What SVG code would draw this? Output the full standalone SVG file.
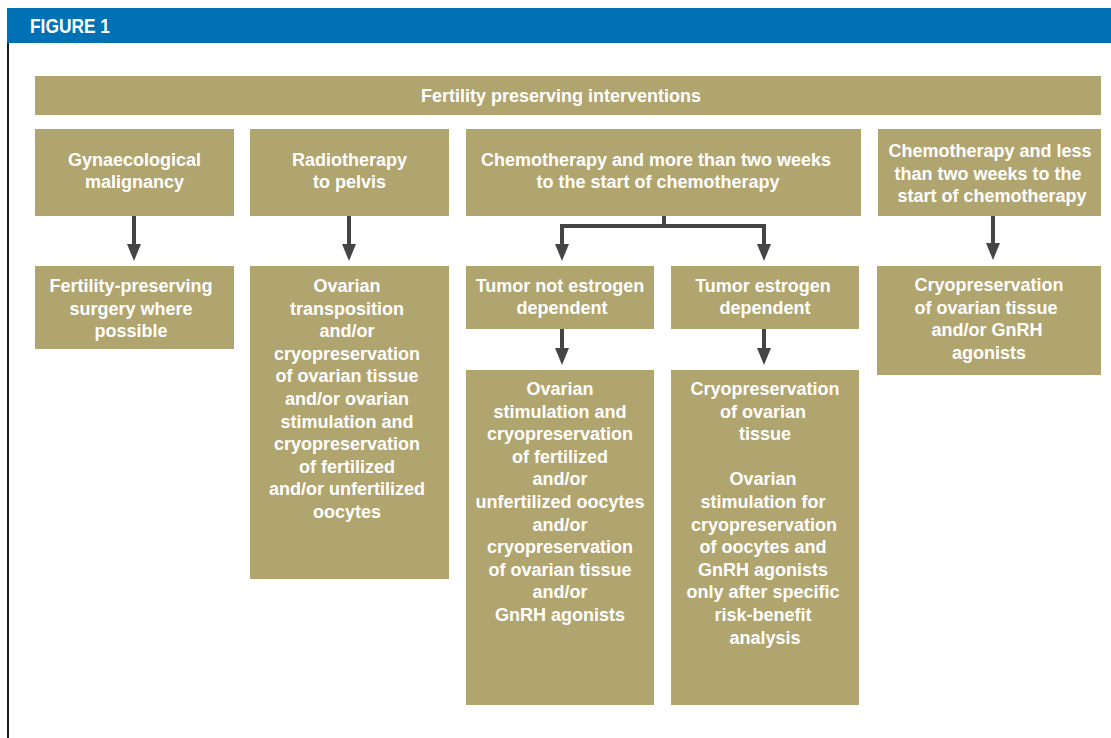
<svg xmlns="http://www.w3.org/2000/svg" width="1111" height="738" viewBox="0 0 1111 738">
<defs>
<style>
.box{fill:#b1a56f;}
.t{font-family:"Liberation Sans",Arial,sans-serif;font-weight:bold;font-size:18px;fill:#ffffff;text-anchor:middle;}
.c{fill:none;stroke:#454545;stroke-width:4;}
</style>
<marker id="ah" markerUnits="userSpaceOnUse" markerWidth="18" markerHeight="14" viewBox="0 0 18 14" refX="2" refY="7" orient="auto">
<path d="M0,0 L17,7 L0,14 z" fill="#454545"/>
</marker>
</defs>
<rect x="0" y="0" width="1111" height="738" fill="#ffffff"/>
<g id="header">
<rect x="7" y="8" width="1104" height="35" fill="#0071b4"/>
<text x="30" y="33" font-family="'Liberation Sans',Arial,sans-serif" font-weight="bold" font-size="21" fill="#ffffff" textLength="80" lengthAdjust="spacingAndGlyphs">FIGURE 1</text>
<rect x="7" y="43" width="2" height="695" fill="#1a1a1a"/>
</g>
<g id="connectors">
<path class="c" d="M134,215 V246" marker-end="url(#ah)"/>
<path class="c" d="M349,215 V246" marker-end="url(#ah)"/>
<path class="c" d="M664,215 V226 H562 V246" marker-end="url(#ah)"/>
<path class="c" d="M664,226 H764 V246" marker-end="url(#ah)"/>
<path class="c" d="M562,328 V350" marker-end="url(#ah)"/>
<path class="c" d="M764,328 V350" marker-end="url(#ah)"/>
<path class="c" d="M993,215 V245" marker-end="url(#ah)"/>
</g>
<g id="title">
<rect class="box" x="35" y="76" width="1066" height="39"/>
<text class="t" x="561" y="102">Fertility preserving interventions</text>
</g>
<g id="gyn">
<rect class="box" x="35" y="129" width="199" height="87"/>
<text class="t" x="134.5" y="165.5">Gynaecological</text>
<text class="t" x="134.5" y="188">malignancy</text>
</g>
<g id="radio">
<rect class="box" x="250" y="129" width="199" height="87"/>
<text class="t" x="349.5" y="165.5">Radiotherapy</text>
<text class="t" x="349.5" y="188">to pelvis</text>
</g>
<g id="chemoMore">
<rect class="box" x="466" y="129" width="395" height="87"/>
<text class="t" x="656" y="165.5">Chemotherapy and more than two weeks</text>
<text class="t" x="658" y="188">to the start of chemotherapy</text>
</g>
<g id="chemoLess">
<rect class="box" x="878" y="129" width="223" height="87"/>
<text class="t" x="990" y="157">Chemotherapy and less</text>
<text class="t" x="988" y="179.5">than two weeks to the</text>
<text class="t" x="992" y="202">start of chemotherapy</text>
</g>
<g id="surgery">
<rect class="box" x="35" y="266" width="199" height="83"/>
<text class="t" x="131" y="292">Fertility-preserving</text>
<text class="t" x="131" y="314.5">surgery where</text>
<text class="t" x="131" y="337">possible</text>
</g>
<g id="ovarianTransposition">
<rect class="box" x="250" y="266" width="199" height="313"/>
<text class="t" x="347" y="292">Ovarian</text>
<text class="t" x="347" y="314.6">transposition</text>
<text class="t" x="347" y="337.2">and/or</text>
<text class="t" x="347" y="359.8">cryopreservation</text>
<text class="t" x="347" y="382.4">of ovarian tissue</text>
<text class="t" x="347" y="405">and/or ovarian</text>
<text class="t" x="347" y="427.6">stimulation and</text>
<text class="t" x="347" y="450.2">cryopreservation</text>
<text class="t" x="347" y="472.8">of fertilized</text>
<text class="t" x="347" y="495.4">and/or unfertilized</text>
<text class="t" x="347" y="518">oocytes</text>
</g>
<g id="notEstrogen">
<rect class="box" x="466" y="266" width="188" height="63"/>
<text class="t" x="560" y="292">Tumor not estrogen</text>
<text class="t" x="562" y="314">dependent</text>
</g>
<g id="estrogen">
<rect class="box" x="671" y="266" width="188" height="63"/>
<text class="t" x="763" y="292">Tumor estrogen</text>
<text class="t" x="765" y="314">dependent</text>
</g>
<g id="cryoGnrh">
<rect class="box" x="877" y="266" width="224" height="109"/>
<text class="t" x="989" y="291">Cryopreservation</text>
<text class="t" x="986" y="313.5">of ovarian tissue</text>
<text class="t" x="987" y="336">and/or GnRH</text>
<text class="t" x="989" y="358.5">agonists</text>
</g>
<g id="stimulation">
<rect class="box" x="466" y="370" width="188" height="335"/>
<text class="t" x="560" y="395">Ovarian</text>
<text class="t" x="560" y="417.6">stimulation and</text>
<text class="t" x="560" y="440.2">cryopreservation</text>
<text class="t" x="560" y="462.8">of fertilized</text>
<text class="t" x="560" y="485.4">and/or</text>
<text class="t" x="560" y="508">unfertilized oocytes</text>
<text class="t" x="560" y="530.6">and/or</text>
<text class="t" x="560" y="553.2">cryopreservation</text>
<text class="t" x="560" y="575.8">of ovarian tissue</text>
<text class="t" x="560" y="598.4">and/or</text>
<text class="t" x="560" y="621">GnRH agonists</text>
</g>
<g id="cryoOvarian">
<rect class="box" x="671" y="370" width="188" height="335"/>
<text class="t" x="765" y="395">Cryopreservation</text>
<text class="t" x="763" y="417.6">of ovarian</text>
<text class="t" x="765" y="440.2">tissue</text>
<text class="t" x="763" y="485.4">Ovarian</text>
<text class="t" x="763" y="508">stimulation for</text>
<text class="t" x="764" y="530.6">cryopreservation</text>
<text class="t" x="763" y="553.2">of oocytes and</text>
<text class="t" x="763" y="575.8">GnRH agonists</text>
<text class="t" x="763" y="598.4">only after specific</text>
<text class="t" x="763" y="621">risk-benefit</text>
<text class="t" x="765" y="643.6">analysis</text>
</g>
</svg>
